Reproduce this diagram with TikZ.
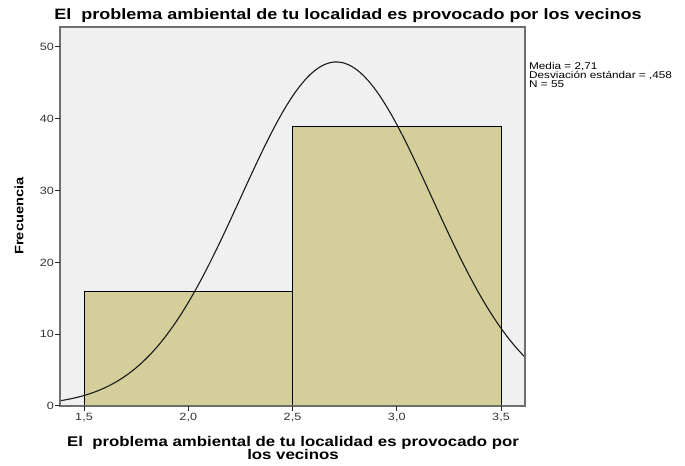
\documentclass[tikz,border=0pt]{standalone}
\usepackage{fontspec}
\setmainfont{Liberation Sans}
\newfontfamily\widesans[FakeStretch=1.2]{Liberation Sans}
\definecolor{panel}{HTML}{F0F0F0}
\definecolor{barfill}{HTML}{D3CE9A}
\definecolor{framegray}{HTML}{6E6E6E}
\tikzstyle{bar}=[draw=black, fill=barfill, line width=0.8pt]
\tikzstyle{axtick}=[draw=black!85, line width=1pt]
\tikzstyle{ticklab}=[font=\widesans\fontsize{10.5}{12}\selectfont, text=black!80, inner sep=0pt]
\tikzstyle{curve}=[draw=black!90, line width=1.1pt]
\begin{document}
\begin{tikzpicture}[x=208.5pt, y=7.18pt]
        \useasboundingbox (1.0971,-8.357) rectangle (4.3825,56.546);
        \fill[panel] (1.385,0) rectangle (3.615,52.79);

        \draw[bar] (1.5,0) rectangle (2.5,16);
        \draw[bar] (2.5,0) rectangle (3.5,39);
        \draw[curve, domain=1.385:3.615, samples=120] plot (\x, {55/(0.458*sqrt(2*pi))*exp(0-((\x-2.71)^2)/0.419528)});
        \draw[draw=framegray, line width=1.4pt] (1.385,0) rectangle (3.615,52.79);

	% eje vertical
	\draw[axtick] (1.361,0) -- (1.385,0);
	\draw[axtick] (1.361,10) -- (1.385,10);
	\draw[axtick] (1.361,20) -- (1.385,20);
	\draw[axtick] (1.361,30) -- (1.385,30);
	\draw[axtick] (1.361,40) -- (1.385,40);
	\draw[axtick] (1.361,50) -- (1.385,50);
	\node[ticklab, anchor=east] (y0) at (1.3561,0) {0};
	\node[ticklab, anchor=east] (y10) at (1.3561,10) {10};
	\node[ticklab, anchor=east] (y20) at (1.3561,20) {20};
	\node[ticklab, anchor=east] (y30) at (1.3561,30) {30};
	\node[ticklab, anchor=east] (y40) at (1.3561,40) {40};
	\node[ticklab, anchor=east] (y50) at (1.3561,50) {50};

	% eje horizontal
	\draw[axtick] (1.5,0) -- (1.5,-0.7);
	\draw[axtick] (2.0,0) -- (2.0,-0.7);
	\draw[axtick] (2.5,0) -- (2.5,-0.7);
	\draw[axtick] (3.0,0) -- (3.0,-0.7);
	\draw[axtick] (3.5,0) -- (3.5,-0.7);
	\node[ticklab, anchor=north] (x15) at (1.5,-1.0) {1,5};
	\node[ticklab, anchor=north] (x20) at (2.0,-1.0) {2,0};
	\node[ticklab, anchor=north] (x25) at (2.5,-1.0) {2,5};
	\node[ticklab, anchor=north] (x30) at (3.0,-1.0) {3,0};
	\node[ticklab, anchor=north] (x35) at (3.5,-1.0) {3,5};

	\node[font=\widesans\fontsize{15}{16}\bfseries, inner sep=0pt] (title) at (2.766,54.32) {El\ \ problema ambiental de tu localidad es provocado por los vecinos};
	\node[font=\widesans\fontsize{14}{13.3}\bfseries, align=center, inner sep=0pt] (xlabel) at (2.5024,-5.89) {El\ \ problema ambiental de tu localidad es provocado por\\los vecinos};
	\node[font=\widesans\fontsize{12.2}{14}\bfseries, rotate=90, inner sep=0pt] (ylabel) at (1.1882,26.46) {Frecuencia};
	\node[font=\widesans\fontsize{9.8}{9}\selectfont, align=left, anchor=north west, inner sep=0pt] (stats) at (3.634,47.84) {Media = 2,71\\Desviación estándar = ,458\\N = 55};
      \end{tikzpicture}
\end{document}
